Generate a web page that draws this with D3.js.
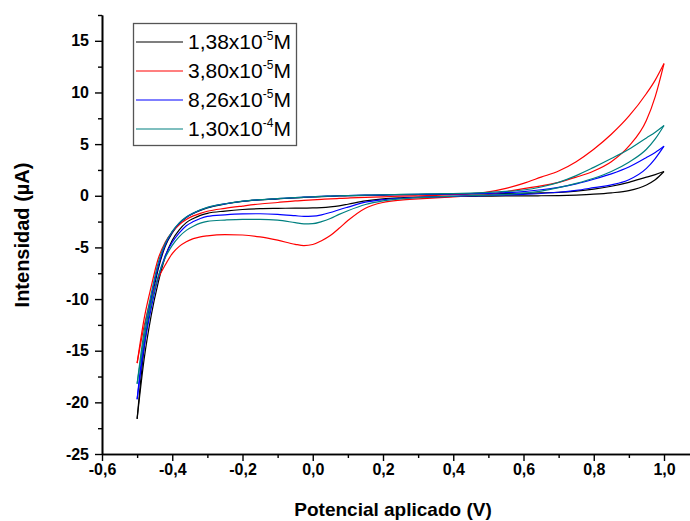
<!DOCTYPE html>
<html>
<head>
<meta charset="utf-8">
<script src="https://cdn.jsdelivr.net/npm/d3@7"></script>
<style>
  body { margin: 0; background: #fff; }
  svg { display: block; }
  text { font-family: "Liberation Sans", Arial, sans-serif; }
</style>
</head>
<body>
<svg id="chart" width="690" height="521"></svg>
<script>
// Potential grid (V) shared by every sweep branch
const potentials = [-0.5, -0.48, -0.46, -0.44, -0.42, -0.40, -0.38, -0.36, -0.34, -0.32, -0.30,
  -0.25, -0.20, -0.15, -0.10, -0.05, -0.025, 0, 0.025, 0.05, 0.075, 0.10, 0.15, 0.20, 0.25, 0.30,
  0.35, 0.40, 0.45, 0.50, 0.55, 0.60, 0.65, 0.70, 0.75, 0.80, 0.85, 0.90, 0.95, 0.975, 1.0];

// Current (µA): anodic sweep (-0.5 -> 1.0) and return sweep (1.0 -> -0.5), listed by ascending potential
const fwd138 = [-21.6, -14.7, -10.3, -7.1, -4.9, -3.6, -2.7, -2.1, -1.72, -1.42, -1.18,
  -0.8, -0.55, -0.4, -0.3, -0.2, -0.16, -0.12, -0.08, -0.05, -0.02, 0.0, 0.04, 0.07, 0.1, 0.12,
  0.14, 0.15, 0.17, 0.19, 0.21, 0.24, 0.28, 0.33, 0.45, 0.64, 0.92, 1.3, 1.8, 2.05, 2.35];
const rev138 = [-21.6, -15.8, -11.6, -8.4, -5.9, -4.3, -3.3, -2.6, -2.2, -1.9, -1.7,
  -1.48, -1.33, -1.25, -1.22, -1.2, -1.19, -1.18, -1.14, -1.07, -0.97, -0.82, -0.5, -0.3, -0.2, -0.14,
  -0.1, -0.07, -0.05, -0.03, -0.02, -0.01, 0.0, 0.02, 0.07, 0.15, 0.28, 0.5, 1.05, 1.55, 2.35];

const fwd380 = [-16.2, -11.9, -8.8, -6.1, -4.5, -3.5, -2.8, -2.3, -1.95, -1.7, -1.5,
  -1.22, -1.0, -0.8, -0.65, -0.5, -0.45, -0.4, -0.35, -0.3, -0.26, -0.22, -0.15, -0.1, -0.04, 0.0,
  0.04, 0.1, 0.2, 0.38, 0.72, 1.2, 1.8, 2.4, 3.3, 4.5, 5.95, 7.7, 9.9, 11.2, 12.8];
const rev380 = [-16.2, -12.6, -9.9, -8.0, -6.7, -5.6, -4.9, -4.45, -4.15, -3.98, -3.88,
  -3.76, -3.8, -3.98, -4.3, -4.7, -4.82, -4.72, -4.35, -3.85, -3.15, -2.4, -1.2, -0.65, -0.42, -0.3,
  -0.2, -0.1, 0.0, 0.12, 0.4, 0.7, 0.95, 1.3, 1.8, 2.4, 3.3, 4.8, 7.3, 9.6, 12.8];

const fwd826 = [-19.7, -13.8, -9.9, -6.8, -4.75, -3.5, -2.65, -2.08, -1.68, -1.38, -1.14,
  -0.78, -0.53, -0.38, -0.28, -0.18, -0.14, -0.1, -0.06, -0.03, 0.0, 0.02, 0.06, 0.09, 0.11, 0.13,
  0.15, 0.17, 0.2, 0.24, 0.3, 0.4, 0.58, 0.82, 1.15, 1.6, 2.12, 2.78, 3.7, 4.2, 4.8];
const rev826 = [-19.7, -14.6, -10.9, -7.9, -5.8, -4.5, -3.6, -2.9, -2.5, -2.2, -2.0,
  -1.85, -1.76, -1.74, -1.8, -1.93, -2.0, -1.98, -1.85, -1.62, -1.35, -1.1, -0.62, -0.38, -0.25, -0.16,
  -0.1, -0.05, -0.01, 0.03, 0.08, 0.14, 0.22, 0.34, 0.52, 0.78, 1.05, 1.55, 2.65, 3.6, 4.8];

const fwd1300 = [-18.2, -13.1, -9.5, -6.5, -4.6, -3.45, -2.62, -2.06, -1.66, -1.36, -1.12,
  -0.77, -0.52, -0.37, -0.27, -0.18, -0.14, -0.1, -0.06, -0.03, 0.0, 0.02, 0.06, 0.1, 0.13, 0.16,
  0.19, 0.22, 0.26, 0.32, 0.42, 0.56, 0.85, 1.3, 1.95, 2.75, 3.6, 4.5, 5.6, 6.15, 6.8];
const rev1300 = [-18.2, -13.8, -10.4, -7.8, -6.0, -4.8, -3.95, -3.35, -2.95, -2.65, -2.48,
  -2.35, -2.28, -2.28, -2.36, -2.6, -2.72, -2.7, -2.5, -2.2, -1.8, -1.45, -0.85, -0.5, -0.3, -0.18,
  -0.1, -0.04, 0.01, 0.06, 0.13, 0.25, 0.45, 0.78, 1.2, 1.7, 2.35, 3.25, 4.5, 5.5, 6.8];

// Legend text: mantissa and exponent of each concentration
const concMantissa = ["1,38x10", "3,80x10", "8,26x10", "1,30x10"];
const concExponent = ["-5", "-5", "-5", "-4"];

// Axis ticks
const xMajor = [-0.6, -0.4, -0.2, 0.0, 0.2, 0.4, 0.6, 0.8, 1.0];
const xMinor = [-0.5, -0.3, -0.1, 0.1, 0.3, 0.5, 0.7, 0.9];
const yMajor = [-25, -20, -15, -10, -5, 0, 5, 10, 15];
const yMinor = [-22.5, -17.5, -12.5, -7.5, -2.5, 2.5, 7.5, 12.5, 17.5];

const series = [
  { fwd: fwd138, rev: rev138, color: "#000000" },
  { fwd: fwd380, rev: rev380, color: "#ff0000" },
  { fwd: fwd826, rev: rev826, color: "#0000ff" },
  { fwd: fwd1300, rev: rev1300, color: "#008080" }
];

const svg = d3.select("#chart");

const x = d3.scaleLinear().domain([-0.6, 1.074]).range([102, 690]);
const y = d3.scaleLinear().domain([-25, 17.5]).range([454, 15]);

const loc = d3.formatLocale({ decimal: ",", thousands: ".", grouping: [3], currency: ["", ""], minus: "-" });
const fmtX = loc.format(".1f");
const fmtY = loc.format("d");

// Voltammogram branches
const line = d3.line()
  .x(d => x(d[0]))
  .y(d => y(d[1]))
  .curve(d3.curveMonotoneX);

const curves = svg.append("g").attr("fill", "none").attr("stroke-width", 1.2);
series.forEach(s => {
  [s.fwd, s.rev].forEach(branch => {
    curves.append("path")
      .attr("d", line(potentials.map((v, i) => [v, branch[i]])))
      .attr("stroke", s.color);
  });
});

// Axes
function styleAxis(g) {
  g.select(".domain").attr("stroke", "#000").attr("stroke-width", 1.6);
  g.selectAll(".tick line").attr("stroke", "#000").attr("stroke-width", 1.4);
  g.selectAll(".tick text")
    .attr("fill", "#000")
    .style("font-family", '"Liberation Sans", Arial, sans-serif')
    .style("font-size", "16px")
    .style("font-weight", "bold");
}

svg.append("g")
  .attr("transform", "translate(0,454)")
  .call(d3.axisBottom(x).tickValues(xMinor).tickSize(4).tickSizeOuter(0).tickFormat(""))
  .call(styleAxis);
svg.append("g")
  .attr("transform", "translate(0,454)")
  .call(d3.axisBottom(x).tickValues(xMajor).tickSize(7).tickSizeOuter(0).tickPadding(3).tickFormat(fmtX))
  .call(styleAxis);

svg.append("g")
  .attr("transform", "translate(102,0)")
  .call(d3.axisLeft(y).tickValues(yMinor).tickSize(4).tickSizeOuter(0).tickFormat(""))
  .call(styleAxis);
svg.append("g")
  .attr("transform", "translate(102,0)")
  .call(d3.axisLeft(y).tickValues(yMajor).tickSize(7).tickSizeOuter(0).tickPadding(6).tickFormat(fmtY))
  .call(styleAxis);

// Axis titles
svg.append("text")
  .attr("x", 393).attr("y", 516)
  .attr("text-anchor", "middle")
  .style("font-size", "19px").style("font-weight", "bold")
  .text("Potencial aplicado (V)");

svg.append("text")
  .attr("transform", "translate(29,235) rotate(-90)")
  .attr("text-anchor", "middle")
  .style("font-size", "20px").style("font-weight", "bold")
  .text("Intensidad (µA)");

// Legend
const legend = svg.append("g");
legend.append("rect")
  .attr("x", 133.5).attr("y", 23.5).attr("width", 163).attr("height", 122)
  .attr("fill", "#fff").attr("stroke", "#555").attr("stroke-width", 1.3);

series.forEach((s, i) => {
  const cy = 42 + i * 29;
  legend.append("line")
    .attr("x1", 136).attr("x2", 183).attr("y1", cy).attr("y2", cy)
    .attr("stroke", s.color).attr("stroke-width", 1.2);
  const t = legend.append("text")
    .attr("x", 188).attr("y", cy + 7)
    .style("font-size", "21px");
  t.append("tspan").text(concMantissa[i]);
  t.append("tspan").attr("dy", -9).style("font-size", "12px").text(concExponent[i]);
  t.append("tspan").attr("dy", 9).text("M");
});
</script>
</body>
</html>
